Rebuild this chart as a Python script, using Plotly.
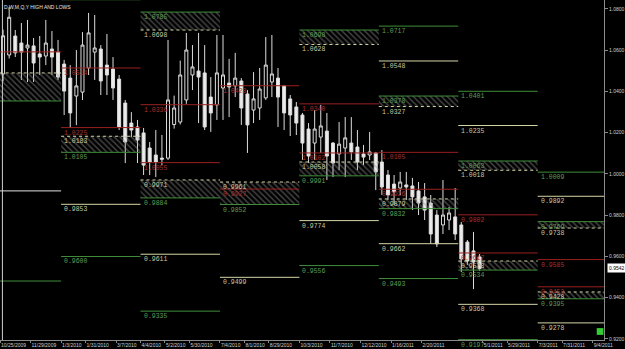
import plotly.graph_objects as go
import pandas as pd

# ---------------- data ----------------
first_week = "2009-10-25"
opens = [1.0485, 1.0577, 1.0669, 1.0635, 1.0611, 1.0621, 1.0582, 1.0572, 1.0606, 1.0591,
         1.0533, 1.0465, 1.0378, 1.0397, 1.0514, 1.0591, 1.0606, 1.0528, 1.0509, 1.0460,
         1.0344, 1.0247, 1.0228, 1.0199, 1.0126, 1.0092, 1.0077, 1.0077, 1.0240, 1.0252,
         1.0359, 1.0480, 1.0499, 1.0490, 1.0373, 1.0335, 1.0417, 1.0441, 1.0427, 1.0451,
         1.0388, 1.0310, 1.0320, 1.0369, 1.0446, 1.0465, 1.0427, 1.0364, 1.0325, 1.0286,
         1.0218, 1.0150, 1.0179, 1.0208, 1.0150, 1.0097, 1.0126, 1.0150, 1.0131, 1.0097,
         1.0092, 1.0102, 1.0058, 0.9995, 0.9951, 0.9932, 0.9947, 0.9942, 0.9918, 0.9889,
         0.9859, 0.9801, 0.9753, 0.9777, 0.9792, 0.9753, 0.9670, 0.9627, 0.9598]
highs = [1.0700, 1.0810, 1.0698, 1.0732, 1.0747, 1.0659, 1.0669, 1.0747, 1.0693, 1.0650,
         1.0553, 1.0528, 1.0601, 1.0688, 1.0781, 1.0771, 1.0625, 1.0679, 1.0567, 1.0480,
         1.0359, 1.0300, 1.0262, 1.0223, 1.0155, 1.0213, 1.0189, 1.0650, 1.0380, 1.0550,
         1.0684, 1.0625, 1.0684, 1.0625, 1.0470, 1.0674, 1.0674, 1.0558, 1.0587, 1.0465,
         1.0407, 1.0494, 1.0514, 1.0664, 1.0674, 1.0514, 1.0431, 1.0383, 1.0349, 1.0296,
         1.0247, 1.0310, 1.0335, 1.0296, 1.0155, 1.0252, 1.0276, 1.0276, 1.0213, 1.0141,
         1.0204, 1.0107, 1.0116, 1.0019, 0.9995, 1.0010, 1.0010, 0.9981, 0.9961, 0.9956,
         0.9898, 0.9825, 0.9971, 0.9840, 0.9932, 0.9767, 0.9680, 0.9719, 0.9612]
lows = [1.0450, 1.0560, 1.0567, 1.0456, 1.0446, 1.0446, 1.0480, 1.0528, 1.0480, 1.0456,
        1.0286, 1.0223, 1.0237, 1.0359, 1.0480, 1.0456, 1.0383, 1.0383, 1.0359, 1.0213,
        1.0053, 1.0179, 1.0053, 0.9995, 0.9995, 0.9985, 1.0043, 1.0068, 1.0220, 1.0240,
        1.0340, 1.0407, 1.0247, 1.0213, 1.0204, 1.0262, 1.0262, 1.0276, 1.0373, 1.0238,
        1.0102, 1.0247, 1.0262, 1.0359, 1.0373, 1.0228, 1.0213, 1.0184, 1.0189, 1.0068,
        1.0053, 1.0068, 1.0102, 0.9971, 0.9985, 1.0019, 0.9985, 1.0068, 1.0019, 1.0043,
        1.0068, 0.9922, 0.9898, 0.9874, 0.9850, 0.9898, 0.9874, 0.9825, 0.9801, 0.9777,
        0.9661, 0.9646, 0.9709, 0.9728, 0.9680, 0.9525, 0.9559, 0.9442, 0.9530]
closes = [1.0670, 1.0760, 1.0587, 1.0591, 1.0625, 1.0538, 1.0567, 1.0635, 1.0567, 1.0470,
          1.0402, 1.0296, 1.0427, 1.0625, 1.0684, 1.0611, 1.0451, 1.0480, 1.0417, 1.0228,
          1.0155, 1.0213, 1.0165, 1.0043, 1.0058, 1.0058, 1.0072, 1.0359, 1.0320, 1.0480,
          1.0601, 1.0519, 1.0470, 1.0228, 1.0296, 1.0490, 1.0480, 1.0422, 1.0465, 1.0320,
          1.0238, 1.0364, 1.0412, 1.0528, 1.0485, 1.0373, 1.0296, 1.0286, 1.0247, 1.0150,
          1.0087, 1.0218, 1.0233, 1.0087, 1.0053, 1.0145, 1.0175, 1.0107, 1.0058, 1.0082,
          1.0107, 1.0010, 0.9937, 0.9898, 0.9913, 0.9961, 0.9937, 0.9889, 0.9859, 0.9825,
          0.9709, 0.9661, 0.9801, 0.9811, 0.9709, 0.9588, 0.9578, 0.9573, 0.9542]

quarter_starts = ["2009-10-04", "2010-01-03", "2010-04-04", "2010-07-04", "2010-10-03",
                  "2011-01-02", "2011-04-03", "2011-07-03", "2011-10-02"]

# level lines: quarter index, price, kind (g=green, c=cream, r=red, w=white)
lvl_q = [0, 0, 0, 0, 0,
         1, 1, 1, 1, 1, 1, 1,
         2, 2, 2, 2, 2, 2, 2, 2,
         3, 3, 3, 3, 3, 3,
         4, 4, 4, 4, 4, 4, 4, 4,
         5, 5, 5, 5, 5, 5, 5, 5, 5, 5,
         6, 6, 6, 6, 6, 6, 6, 6, 6, 6,
         7, 7, 7, 7, 7, 7, 7, 7, 7]
lvl_price = [1.0592, 1.0490, 1.0354, 0.9918, 0.9481,
             1.0845, 1.0514, 1.0225, 1.0183, 1.0105, 0.9853, 0.9600,
             1.0785, 1.0698, 1.0336, 1.0055, 0.9971, 0.9884, 0.9611, 0.9335,
             1.0852, 1.0428, 0.9961, 0.9927, 0.9852, 0.9499,
             1.0698, 1.0628, 1.0340, 1.0102, 1.0058, 0.9991, 0.9774, 0.9556,
             1.0717, 1.0548, 1.0378, 1.0327, 1.0105, 0.9926, 0.9879, 0.9832, 0.9662, 0.9493,
             1.0401, 1.0235, 1.0063, 1.0018, 0.9802, 0.9617, 0.9578, 0.9534, 0.9368, 0.9197,
             1.0009, 0.9892, 0.9769, 0.9738, 0.9585, 0.9453, 0.9428, 0.9395, 0.9278]
lvl_kind = ["r", "c", "g", "w", "g",
            "g", "r", "r", "c", "g", "c", "g",
            "g", "c", "r", "r", "c", "g", "c", "g",
            "g", "r", "c", "r", "g", "c",
            "g", "c", "r", "r", "c", "g", "c", "g",
            "g", "c", "g", "c", "r", "r", "c", "g", "c", "g",
            "g", "c", "g", "c", "r", "r", "c", "g", "c", "g",
            "g", "c", "g", "c", "r", "r", "c", "g", "c"]

# hatched zones: quarter index, top, bottom
hatch_q = [0, 1, 2, 2, 3, 4, 4, 5, 5, 6, 6, 7, 7]
hatch_top = [1.0490, 1.0183, 1.0785, 0.9971, 0.9961, 1.0698, 1.0058, 1.0378, 0.9879, 1.0063, 0.9578, 0.9769, 0.9428]
hatch_bot = [1.0354, 1.0105, 1.0698, 0.9884, 0.9852, 1.0628, 0.9991, 1.0327, 0.9832, 1.0018, 0.9534, 0.9738, 0.9395]

price_ticks = [0.92, 0.94, 0.96, 0.98, 1.00, 1.02, 1.04, 1.06, 1.08]
date_ticks = ["10/25/2009", "11/29/2009", "1/3/2010", "1/31/2010", "3/7/2010", "4/4/2010",
              "5/2/2010", "5/30/2010", "7/4/2010", "8/1/2010", "8/29/2010", "10/3/2010",
              "11/7/2010", "12/12/2010", "1/16/2011", "2/20/2011", "5/1/2011",
              "5/29/2011", "7/3/2011", "7/31/2011", "9/4/2011"]
last_price = 0.9542
title_text = "D,W,M,Q,Y HIGH AND LOWS"

# ---------------- styles ----------------
line_col = {"g": "#3f8e3a", "c": "#d6d6a8", "r": "#9a2020", "w": "#e0e0e0"}
text_col = {"g": "#5e9e56", "c": "#c8c8a0", "r": "#a83030", "w": "#e0e0e0"}

weeks = pd.date_range(first_week, periods=len(opens), freq="7D")
candle_x = [str(d + pd.Timedelta(hours=84)) for d in weeks]
qs = pd.to_datetime(quarter_starts)
hatch_edges = set()
for q, t, b in zip(hatch_q, hatch_top, hatch_bot):
    hatch_edges.add((q, t))
    hatch_edges.add((q, b))

fig = go.Figure()

# hatched zones
hx, hy = [], []
for q, t, b in zip(hatch_q, hatch_top, hatch_bot):
    x0, x1 = str(qs[q]), str(qs[q + 1])
    hx += [x0, x1, x1, x0, x0, None]
    hy += [t, t, b, b, t, None]
fig.add_trace(go.Scatter(
    x=hx, y=hy, mode="lines", fill="toself", fillcolor="rgba(0,0,0,0)",
    fillpattern=dict(shape="\\", fgcolor="#8e8e8e", bgcolor="rgba(0,0,0,0)", size=4, solidity=0.35),
    line=dict(width=0), hoverinfo="skip"))

# level lines grouped by kind (cream hatch borders dotted)
for kind, dotted in [("w", False), ("g", False), ("c", False), ("c", True), ("r", False)]:
    xs, ys = [], []
    for q, p, k in zip(lvl_q, lvl_price, lvl_kind):
        if k != kind:
            continue
        is_edge = (q, p) in hatch_edges
        if kind == "c" and is_edge != dotted:
            continue
        xs += [str(qs[q]), str(qs[q + 1]), None]
        ys += [p, p, None]
    fig.add_trace(go.Scatter(x=xs, y=ys, mode="lines",
                             line=dict(color=line_col[kind], width=1,
                                       dash="dot" if dotted else "solid"),
                             hoverinfo="skip"))

# candles
fig.add_trace(go.Candlestick(
    x=candle_x, open=opens, high=highs, low=lows, close=closes,
    increasing=dict(line=dict(color="#dcdcdc", width=1), fillcolor="black"),
    decreasing=dict(line=dict(color="#dcdcdc", width=1), fillcolor="#ececec"),
    whiskerwidth=0, hoverinfo="skip"))

annotations = []
for q, p, k in zip(lvl_q, lvl_price, lvl_kind):
    if q == 0:
        continue
    annotations.append(dict(
        x=str(qs[q]), y=p, xref="x", yref="y", text=f"{p:.4f}", showarrow=False,
        xanchor="left", yanchor="top", xshift=1, yshift=0,
        font=dict(family="Liberation Mono", size=6.5, color=text_col[k])))
annotations.append(dict(x=0.004, y=0.995, xref="paper", yref="paper", text=title_text,
                        showarrow=False, xanchor="left", yanchor="top",
                        font=dict(family="Liberation Sans", size=5, color="#e8e8e8")))
annotations.append(dict(x=1.0, y=last_price, xref="paper", yref="y", text=f"{last_price:.4f}",
                        showarrow=False, xanchor="left", yanchor="middle", xshift=3,
                        bgcolor="white", borderpad=1,
                        font=dict(family="Liberation Sans", size=5, color="black")))

tick_dates = [str(pd.to_datetime(d, format="%m/%d/%Y")) for d in date_ticks]

fig.update_layout(
    width=625, height=349, margin=dict(l=0, r=15, t=0, b=9),
    paper_bgcolor="black", plot_bgcolor="black", showlegend=False,
    annotations=annotations,
    shapes=[dict(type="line", xref="paper", yref="paper", x0=0.004, x1=0.004, y0=0, y1=1,
                 line=dict(color="#cfcfcf", width=1)),
            dict(type="rect", xref="paper", yref="paper", x0=0.988, x1=0.999, y0=0.015, y1=0.035,
                 line=dict(width=0), fillcolor="#33cc33")],
    xaxis=dict(type="date", range=["2009-10-25", "2011-09-17"],
               rangeslider=dict(visible=False), showgrid=False, zeroline=False,
               tickvals=tick_dates, ticktext=date_ticks, ticklabelposition="outside right",
               tickangle=0, ticks="outside", ticklen=2, tickcolor="#888",
               tickfont=dict(family="Liberation Sans", size=5, color="#cfcfcf"),
               showline=True, linecolor="#8a8a8a", linewidth=1),
    yaxis=dict(side="right", range=[0.91951, 1.08436], tickvals=price_ticks,
               tickformat=".4f", showgrid=False, zeroline=False,
               ticks="outside", ticklen=3, tickcolor="#888",
               tickfont=dict(family="Liberation Sans", size=5, color="#cfcfcf"),
               showline=True, linecolor="#8a8a8a", linewidth=1),
)

fig.write_html("out.html")
